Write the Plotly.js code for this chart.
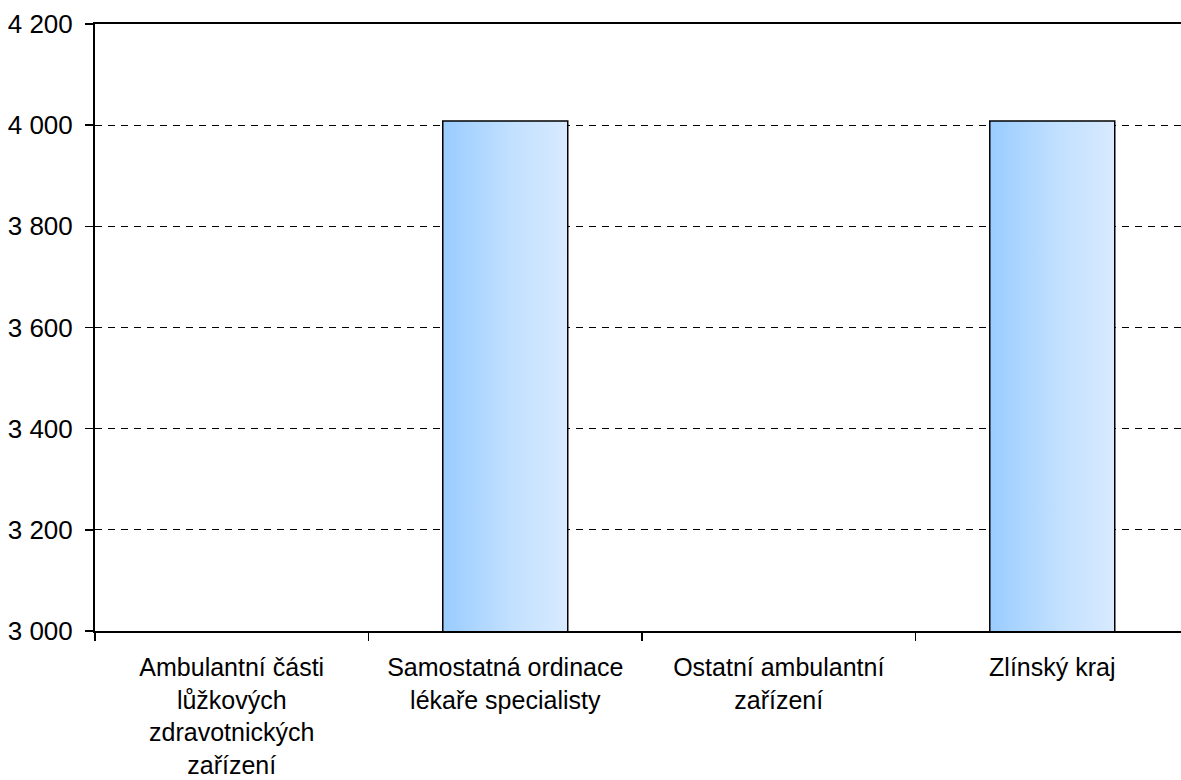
<!DOCTYPE html>
<html>
<head>
<meta charset="utf-8">
<script src="https://cdn.plot.ly/plotly-3.0.1.min.js"></script>
<style>
html,body{margin:0;padding:0;background:#fff;}
#chart{width:1181px;height:780px;}
</style>
</head>
<body>
<div id="chart"></div>
<script>
const categories = [
  "Ambulantní části<br>lůžkových<br>zdravotnických<br>zařízení",
  "Samostatná ordinace<br>lékaře specialisty",
  "Ostatní ambulantní<br>zařízení",
  "Zlínský kraj"
];
const values = [null, 4008, null, 4008];
const yTicks = [3000, 3200, 3400, 3600, 3800, 4000, 4200];

const font = {family: "Liberation Sans, Arial, sans-serif", size: 26, color: "#000"};
const xFont = {family: "Liberation Sans, Arial, sans-serif", size: 25, color: "#000"};

const trace = {
  type: "bar",
  x: categories,
  y: values,
  width: 0.457,
  marker: {color: "#b8dbff", line: {color: "#000", width: 1.5}},
  hoverinfo: "skip"
};

const layout = {
  width: 1181, height: 780,
  margin: {l: 95, r: 0, t: 24, b: 149, pad: 0},
  paper_bgcolor: "#fff", plot_bgcolor: "#fff",
  separators: ", ",
  font: font,
  showlegend: false,
  xaxis: {
    type: "category",
    range: [-0.5, 3.4707],
    showline: true, linecolor: "#000", linewidth: 2, mirror: true,
    ticks: "outside", tickson: "boundaries", ticklen: 8, tickcolor: "#000", tickwidth: 1.5,
    showgrid: false, zeroline: false,
    tickfont: xFont,
    ticklabelstandoff: 13
  },
  yaxis: {
    range: [3000, 4200],
    tickvals: yTicks,
    tickformat: ",d",
    showline: true, linecolor: "#000", linewidth: 2,
    ticks: "outside", ticklen: 8, tickcolor: "#000", tickwidth: 1.5,
    showgrid: true, gridcolor: "#000", gridwidth: 1, griddash: "7px,6px",
    zeroline: false,
    tickfont: font,
    ticklabelstandoff: 7
  }
};

Plotly.newPlot("chart", [trace], layout, {staticPlot: true}).then(function(gd){
  const svg = gd.querySelector("svg.main-svg");
  const ns = "http://www.w3.org/2000/svg";
  let defs = svg.querySelector("defs");
  if (!defs) { defs = document.createElementNS(ns, "defs"); svg.insertBefore(defs, svg.firstChild); }
  const grad = document.createElementNS(ns, "linearGradient");
  grad.setAttribute("id", "barGrad");
  grad.setAttribute("x1", "0"); grad.setAttribute("y1", "0");
  grad.setAttribute("x2", "1"); grad.setAttribute("y2", "0");
  [["0", "#99ccff"], ["0.55", "#c2e0ff"], ["1", "#d8eaff"]].forEach(function(s){
    const st = document.createElementNS(ns, "stop");
    st.setAttribute("offset", s[0]);
    st.setAttribute("stop-color", s[1]);
    grad.appendChild(st);
  });
  defs.appendChild(grad);
  gd.querySelectorAll(".barlayer .point path").forEach(function(p){
    p.style.fill = "url(#barGrad)";
  });
});
</script>
</body>
</html>
